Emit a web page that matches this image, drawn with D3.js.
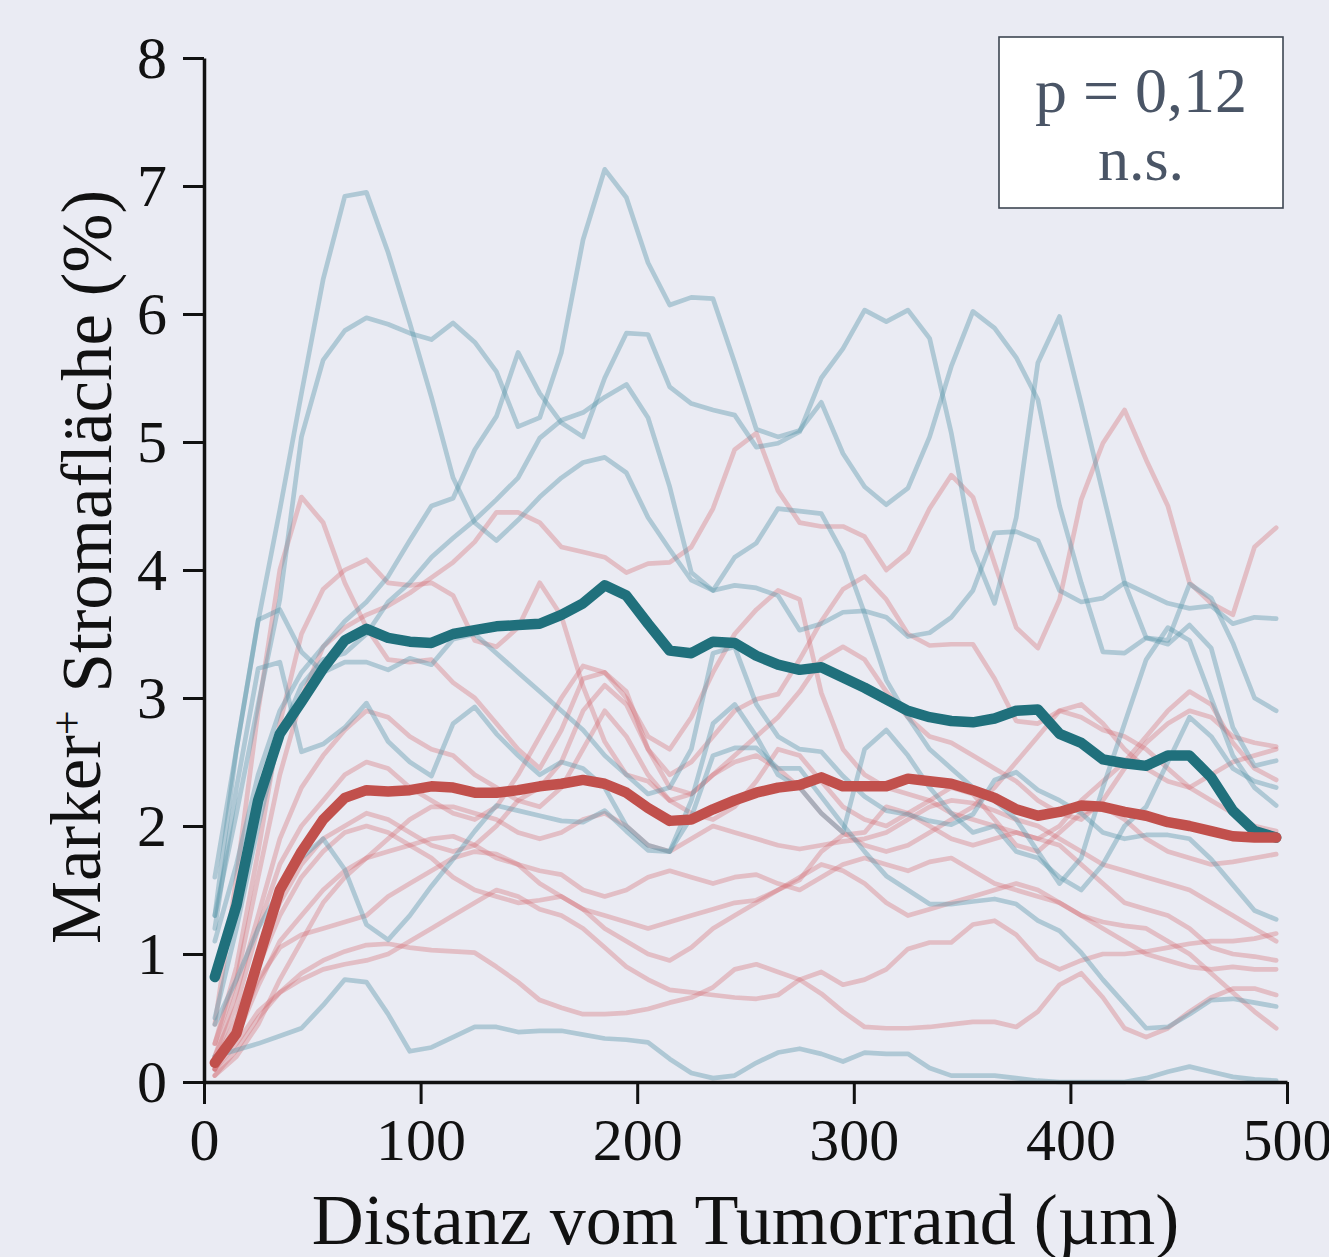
<!DOCTYPE html>
<html lang="de">
<head>
<meta charset="UTF-8">
<title>Marker+ Stromafläche</title>
<script src="https://cdn.jsdelivr.net/npm/d3@7"></script>
<style>
  body { margin: 0; padding: 0; background: #EAEBF3; }
  svg { display: block; }
</style>
</head>
<body>
<div id="chart"></div>
<script>
// distance from tumour border (µm), one value per 10 µm bin
const distance = [5, 15, 25, 35, 45, 55, 65, 75, 85, 95, 105, 115, 125, 135, 145, 155, 165, 175, 185, 195,
  205, 215, 225, 235, 245, 255, 265, 275, 285, 295, 305, 315, 325, 335, 345, 355, 365, 375, 385, 395,
  405, 415, 425, 435, 445, 455, 465, 475, 485, 495];

// group means
const tealMean = [0.82, 1.38, 2.2, 2.72, 2.97, 3.23, 3.45, 3.54, 3.47, 3.44, 3.43, 3.5, 3.53, 3.56, 3.57, 3.58, 3.65, 3.74, 3.88, 3.8,
  3.58, 3.37, 3.35, 3.44, 3.43, 3.33, 3.26, 3.22, 3.24, 3.16, 3.08, 2.99, 2.9, 2.85, 2.82, 2.81, 2.84, 2.9, 2.91, 2.72,
  2.65, 2.52, 2.49, 2.47, 2.55, 2.55, 2.38, 2.12, 1.96, 1.91];
const redMean = [0.15, 0.38, 0.95, 1.5, 1.8, 2.05, 2.22, 2.28, 2.27, 2.28, 2.31, 2.3, 2.26, 2.26, 2.28, 2.31, 2.33, 2.36, 2.33, 2.26,
  2.14, 2.04, 2.05, 2.13, 2.2, 2.26, 2.3, 2.32, 2.38, 2.31, 2.31, 2.31, 2.37, 2.35, 2.33, 2.28, 2.22, 2.13, 2.08, 2.11,
  2.16, 2.15, 2.11, 2.08, 2.03, 2.0, 1.96, 1.92, 1.91, 1.91];

// individual samples, teal group
const teal1 = [1.6, 2.6, 3.6, 4.47, 5.38, 6.27, 6.92, 6.95, 6.48, 5.93, 5.35, 4.72, 4.37, 4.23, 4.39, 4.57, 4.72, 4.84, 4.88, 4.76,
  4.41, 4.16, 3.92, 3.84, 3.88, 3.86, 3.8, 3.53, 3.58, 3.67, 3.68, 3.63, 3.48, 3.51, 3.63, 3.84, 4.29, 4.3, 4.23, 3.84,
  3.75, 3.78, 3.9, 3.82, 3.74, 3.7, 3.72, 3.58, 3.63, 3.62];
const teal2 = [1.3, 2.1, 2.95, 3.77, 5.04, 5.64, 5.87, 5.97, 5.92, 5.85, 5.8, 5.93, 5.78, 5.55, 5.12, 5.19, 5.7, 6.58, 7.13, 6.91,
  6.4, 6.07, 6.13, 6.12, 5.62, 5.1, 5.04, 5.09, 5.31, 4.91, 4.65, 4.51, 4.64, 5.04, 5.59, 6.02, 5.89, 5.66, 5.33, 4.5,
  3.9, 3.36, 3.35, 3.47, 3.45, 3.89, 3.78, 3.43, 3.0, 2.9];
const teal3 = [1.1, 1.7, 2.4, 2.9, 3.2, 3.4, 3.6, 3.75, 3.95, 4.23, 4.5, 4.56, 4.94, 5.2, 5.7, 5.38, 5.15, 5.04, 5.5, 5.85,
  5.84, 5.43, 5.3, 5.25, 5.21, 4.96, 4.99, 5.08, 5.5, 5.73, 6.03, 5.94, 6.03, 5.81, 5.07, 4.16, 3.74, 4.41, 5.62, 5.98,
  5.3, 4.6, 3.9, 3.47, 3.42, 3.57, 3.39, 2.77, 2.47, 2.51];
const teal4 = [0.5, 1.2, 2.0, 2.7, 3.1, 3.3, 3.35, 3.5, 3.75, 3.9, 4.1, 4.25, 4.39, 4.55, 4.72, 5.03, 5.17, 5.23, 5.35, 5.45,
  5.19, 4.65, 3.98, 3.84, 4.1, 4.21, 4.48, 4.46, 4.44, 4.13, 3.66, 3.14, 2.85, 2.6, 2.45, 2.3, 2.2, 2.05, 1.8, 1.55,
  1.75, 2.3, 2.8, 3.3, 3.55, 3.45, 3.0, 2.55, 2.3, 2.16];
const teal5 = [0.2, 0.25, 0.3, 0.36, 0.42, 0.6, 0.8, 0.78, 0.53, 0.24, 0.27, 0.35, 0.43, 0.43, 0.39, 0.4, 0.4, 0.37, 0.34, 0.33,
  0.31, 0.18, 0.07, 0.03, 0.05, 0.15, 0.23, 0.26, 0.22, 0.16, 0.23, 0.22, 0.22, 0.11, 0.05, 0.05, 0.05, 0.03, 0.01, 0.0,
  0.0, 0.0, 0.0, 0.03, 0.08, 0.12, 0.08, 0.04, 0.02, 0.01];
const teal6 = [0.45, 0.8, 1.2, 1.5, 1.75, 1.9, 1.66, 1.23, 1.11, 1.3, 1.53, 1.74, 1.96, 2.16, 2.12, 2.08, 2.04, 2.03, 2.12, 1.96,
  1.81, 1.8, 2.07, 2.55, 2.61, 2.61, 2.45, 2.45, 2.23, 2.01, 1.8, 1.61, 1.5, 1.39, 1.39, 1.41, 1.43, 1.39, 1.26, 1.18,
  1.01, 0.8, 0.61, 0.42, 0.43, 0.53, 0.64, 0.65, 0.62, 0.59];
const teal7 = [1.3, 2.6, 3.61, 3.69, 3.36, 3.2, 3.28, 3.28, 3.22, 3.31, 3.26, 3.46, 3.5, 3.35, 3.2, 3.05, 2.9, 2.75, 2.55, 2.4,
  2.25, 2.3, 2.6, 3.35, 3.4, 2.95, 2.7, 2.6, 2.58, 2.39, 2.23, 2.12, 2.09, 2.04, 2.01, 2.09, 2.36, 2.42, 2.28, 2.2,
  2.1, 1.95, 1.9, 1.93, 1.93, 1.9, 1.74, 1.54, 1.34, 1.27];
const teal8 = [1.2, 2.3, 3.23, 3.28, 2.58, 2.64, 2.77, 2.96, 2.66, 2.5, 2.39, 2.8, 2.93, 2.72, 2.55, 2.4, 2.5, 2.45, 2.3, 2.0,
  1.85, 1.8, 2.2, 2.8, 2.95, 2.7, 2.4, 2.3, 2.1, 1.95, 2.6, 2.75, 2.55, 2.3, 2.1, 1.95, 2.0, 1.8, 1.75, 1.6,
  1.5, 1.7, 2.0, 2.15, 2.5, 2.85, 2.7, 2.45, 2.35, 2.3];

// individual samples, red group
const red1 = [0.3, 0.8, 1.6, 2.4, 3.0, 3.4, 3.55, 3.65, 3.72, 3.82, 3.94, 4.06, 4.22, 4.45, 4.45, 4.37, 4.18, 4.14, 4.1, 3.98,
  4.05, 4.06, 4.18, 4.48, 4.94, 5.07, 4.62, 4.37, 4.34, 4.34, 4.26, 4.0, 4.14, 4.48, 4.74, 4.57, 4.05, 3.55, 3.39, 3.77,
  4.55, 4.99, 5.25, 4.86, 4.5, 3.9, 3.74, 3.65, 4.18, 4.33];
const red2 = [0.45, 1.6, 2.9, 4.0, 4.57, 4.37, 3.9, 3.55, 3.3, 3.28, 3.3, 3.12, 3.0, 2.8, 2.6, 2.45, 2.75, 3.15, 3.2, 3.05,
  2.6, 2.3, 2.25, 2.4, 2.55, 2.7, 2.85, 3.05, 3.3, 3.4, 3.3, 3.05, 2.85, 2.7, 2.65, 2.55, 2.45, 2.35, 2.2, 2.1,
  2.05, 2.2, 2.45, 2.65, 2.8, 2.9, 2.85, 2.7, 2.65, 2.62];
const red3 = [0.3, 0.9, 1.8, 2.8, 3.5, 3.85, 4.0, 4.08, 3.9, 3.88, 3.9, 3.8, 3.45, 3.4, 3.55, 3.9, 3.64, 3.09, 2.66, 2.4,
  2.35, 2.2, 2.1, 2.05, 2.15, 2.35, 2.6, 2.55, 2.35, 2.15, 2.05, 2.0, 2.1, 2.2, 2.3, 2.25, 2.05, 1.85, 1.8, 1.95,
  2.1, 2.15, 2.05, 1.9, 1.8, 1.75, 1.7, 1.72, 1.75, 1.78];
const red4 = [0.2, 0.6, 1.2, 1.7, 2.0, 2.2, 2.4, 2.5, 2.45, 2.3, 2.2, 2.1, 2.05, 2.15, 2.4, 2.7, 3.0, 3.25, 3.2, 3.0,
  2.7, 2.6, 2.85, 3.2, 3.5, 3.69, 3.84, 3.77, 3.04, 2.6, 2.4, 2.3, 2.25, 2.2, 2.1, 2.05, 2.0, 1.95, 1.9, 2.0,
  2.2, 2.35, 2.5, 2.7, 2.9, 3.05, 2.95, 2.65, 2.45, 2.36];
const red5 = [0.15, 0.5, 1.0, 1.4, 1.7, 1.9, 2.0, 2.1, 2.05, 1.95, 1.85, 1.8, 1.85, 2.0, 2.2, 2.3, 2.5, 2.9, 3.1, 2.95,
  2.6, 2.4, 2.5, 2.7, 2.9, 2.99, 3.03, 3.3, 3.6, 3.85, 3.95, 3.77, 3.5, 3.41, 3.42, 3.42, 3.15, 2.82, 2.8, 2.9,
  2.85, 2.75, 2.7, 2.6, 2.45, 2.3, 2.2, 2.1, 2.0, 1.96];
const red6 = [0.05, 0.25, 0.5, 0.7, 0.85, 0.95, 1.02, 1.07, 1.08, 1.05, 1.03, 1.02, 1.01, 0.9, 0.78, 0.64, 0.58, 0.53, 0.53, 0.54,
  0.57, 0.62, 0.66, 0.74, 0.88, 0.92, 0.86, 0.8, 0.69, 0.55, 0.43, 0.42, 0.42, 0.43, 0.45, 0.47, 0.47, 0.43, 0.55, 0.76,
  0.85, 0.66, 0.42, 0.35, 0.42, 0.55, 0.66, 0.73, 0.73, 0.68];
const red7 = [0.1, 0.3, 0.55, 0.7, 0.8, 0.88, 0.92, 0.95, 1.0, 1.1, 1.2, 1.3, 1.4, 1.5, 1.45, 1.35, 1.3, 1.2, 1.05, 0.9,
  0.8, 0.72, 0.7, 0.68, 0.66, 0.65, 0.68, 0.8, 0.86, 0.76, 0.8, 0.88, 1.04, 1.09, 1.09, 1.23, 1.26, 1.15, 0.96, 0.88,
  0.95, 1.0, 1.0, 1.02, 1.05, 1.08, 1.1, 1.1, 1.12, 1.16];
const red8 = [0.1, 0.4, 0.8, 1.05, 1.15, 1.2, 1.25, 1.3, 1.45, 1.55, 1.65, 1.75, 1.8, 1.78, 1.7, 1.55, 1.45, 1.35, 1.3, 1.25,
  1.2, 1.25, 1.3, 1.35, 1.4, 1.42, 1.5, 1.58, 1.8, 1.93, 1.95, 2.15, 2.1, 2.0, 1.9, 1.85, 1.9, 1.95, 1.9, 1.85,
  1.7, 1.55, 1.4, 1.35, 1.3, 1.2, 1.05, 1.0, 0.98, 0.95];
const red9 = [0.1, 0.35, 0.75, 1.1, 1.3, 1.5, 1.65, 1.75, 1.8, 1.85, 1.9, 1.92, 1.85, 1.75, 1.7, 1.65, 1.62, 1.5, 1.45, 1.5,
  1.6, 1.65, 1.6, 1.55, 1.6, 1.62, 1.55, 1.5, 1.6, 1.7, 1.75, 1.7, 1.65, 1.72, 1.75, 1.65, 1.55, 1.5, 1.45, 1.4,
  1.3, 1.25, 1.22, 1.2, 1.1, 1.0, 0.85, 0.7, 0.55, 0.42];
const red10 = [0.05, 0.2, 0.45, 0.8, 1.1, 1.4, 1.6, 1.75, 1.9, 2.05, 2.15, 2.15, 2.1, 2.05, 1.95, 1.9, 1.95, 2.05, 2.1, 2.0,
  1.85, 1.8, 1.9, 2.0, 1.95, 1.9, 1.85, 1.82, 1.85, 1.88, 1.9, 1.95, 2.05, 2.15, 2.2, 2.18, 2.12, 2.05, 2.0, 1.9,
  1.8, 1.7, 1.65, 1.6, 1.55, 1.5, 1.4, 1.3, 1.2, 1.1];
const red11 = [0.2, 0.7, 1.3, 1.9, 2.3, 2.55, 2.75, 2.9, 2.85, 2.7, 2.6, 2.55, 2.4, 2.3, 2.2, 2.15, 2.3, 2.6, 2.9, 2.7,
  2.4, 2.2, 2.25, 2.4, 2.5, 2.55, 2.45, 2.3, 2.1, 1.95, 1.85, 1.8, 1.85, 1.95, 2.05, 2.15, 2.3, 2.5, 2.7, 2.9,
  2.95, 2.8, 2.6, 2.45, 2.35, 2.3, 2.4, 2.5, 2.55, 2.6];
const red12 = [0.1, 0.4, 0.9, 1.3, 1.6, 1.8, 1.95, 2.0, 1.95, 1.85, 1.75, 1.6, 1.5, 1.45, 1.4, 1.42, 1.45, 1.35, 1.2, 1.1,
  1.0, 0.95, 1.05, 1.2, 1.3, 1.4, 1.5, 1.6, 1.7, 1.65, 1.55, 1.4, 1.3, 1.35, 1.4, 1.45, 1.5, 1.55, 1.5, 1.4,
  1.3, 1.2, 1.1, 1.0, 0.95, 0.9, 0.88, 0.9, 0.88, 0.88];

const tealSamples = [teal1, teal2, teal3, teal4, teal5, teal6, teal7, teal8];
const redSamples = [red1, red2, red3, red4, red5, red6, red7, red8, red9, red10, red11, red12];

const xTicks = [0, 100, 200, 300, 400, 500];
const yTicks = [0, 1, 2, 3, 4, 5, 6, 7, 8];
const pLabel = "p = 0,12";
const sigLabel = "n.s.";

// layout
const W = 1329, H = 1257;
const plotLeft = 204, plotRight = 1287, plotTop = 58, plotBottom = 1082;
const serif = "'Liberation Serif', 'DejaVu Serif', serif";

const svg = d3.select("#chart").append("svg")
  .attr("width", W)
  .attr("height", H);

svg.append("rect").attr("width", W).attr("height", H).attr("fill", "#EAEBF3");

const x = d3.scaleLinear().domain([0, 500]).range([plotLeft, plotRight]);
const y = d3.scaleLinear().domain([0, 8]).range([plotBottom, plotTop]);

const line = d3.line()
  .x((d, i) => x(distance[i]))
  .y(d => y(d));

// thin sample lines
const gThin = svg.append("g")
  .attr("fill", "none")
  .attr("stroke-width", 4.7)
  .attr("stroke-linejoin", "round")
  .attr("stroke-linecap", "round");

gThin.selectAll("path.red")
  .data(redSamples)
  .join("path")
  .attr("class", "red")
  .attr("stroke", "#D46A70")
  .attr("stroke-opacity", 0.35)
  .attr("d", line);

gThin.selectAll("path.teal")
  .data(tealSamples)
  .join("path")
  .attr("class", "teal")
  .attr("stroke", "#5C98AC")
  .attr("stroke-opacity", 0.42)
  .attr("d", line);

// mean lines
svg.append("path")
  .datum(tealMean)
  .attr("fill", "none")
  .attr("stroke", "#20707C")
  .attr("stroke-width", 10.5)
  .attr("stroke-linejoin", "round")
  .attr("stroke-linecap", "round")
  .attr("d", line);

svg.append("path")
  .datum(redMean)
  .attr("fill", "none")
  .attr("stroke", "#C1504C")
  .attr("stroke-width", 10.5)
  .attr("stroke-linejoin", "round")
  .attr("stroke-linecap", "round")
  .attr("d", line);

// axes
const yAxis = svg.append("g")
  .attr("transform", `translate(${plotLeft},0)`)
  .call(d3.axisLeft(y).tickValues(yTicks).tickFormat(d3.format("d")).tickSize(21).tickSizeOuter(0).tickPadding(16));

const xAxis = svg.append("g")
  .attr("transform", `translate(0,${plotBottom})`)
  .call(d3.axisBottom(x).tickValues(xTicks).tickFormat(d3.format("d")).tickSize(22).tickSizeOuter(0).tickPadding(12));

[yAxis, xAxis].forEach(g => {
  g.select(".domain").attr("stroke", "#111").attr("stroke-width", 3.5);
  g.selectAll(".tick line").attr("stroke", "#111").attr("stroke-width", 3);
  g.selectAll(".tick text")
    .attr("fill", "#111")
    .style("font-family", serif)
    .style("font-size", "60px");
});
yAxis.selectAll(".tick text").attr("dy", "0.33em");
xAxis.selectAll(".tick text").attr("dy", "0.74em");

// axis titles
svg.append("text")
  .attr("x", (plotLeft + plotRight) / 2)
  .attr("y", 1244)
  .attr("text-anchor", "middle")
  .attr("fill", "#111")
  .style("font-family", serif)
  .style("font-size", "72px")
  .text("Distanz vom Tumorrand (µm)");

const yTitle = svg.append("text")
  .attr("transform", "translate(100,567) rotate(-90)")
  .attr("text-anchor", "middle")
  .attr("fill", "#111")
  .style("font-family", serif)
  .style("font-size", "71px");
yTitle.append("tspan").text("Marker");
yTitle.append("tspan").attr("dy", "-0.42em").style("font-size", "44px").text("+");
yTitle.append("tspan").attr("dy", "0.42em").text(" Stromafläche (%)");

// p-value box
svg.append("rect")
  .attr("x", 999).attr("y", 37)
  .attr("width", 284).attr("height", 171)
  .attr("fill", "#fff")
  .attr("stroke", "#3E4652")
  .attr("stroke-width", 1.6);

svg.append("text")
  .attr("x", 1141).attr("y", 112)
  .attr("text-anchor", "middle")
  .attr("fill", "#4A5566")
  .style("font-family", serif)
  .style("font-size", "64px")
  .text(pLabel);

svg.append("text")
  .attr("x", 1141).attr("y", 180)
  .attr("text-anchor", "middle")
  .attr("fill", "#4A5566")
  .style("font-family", serif)
  .style("font-size", "62px")
  .text(sigLabel);
</script>
</body>
</html>
